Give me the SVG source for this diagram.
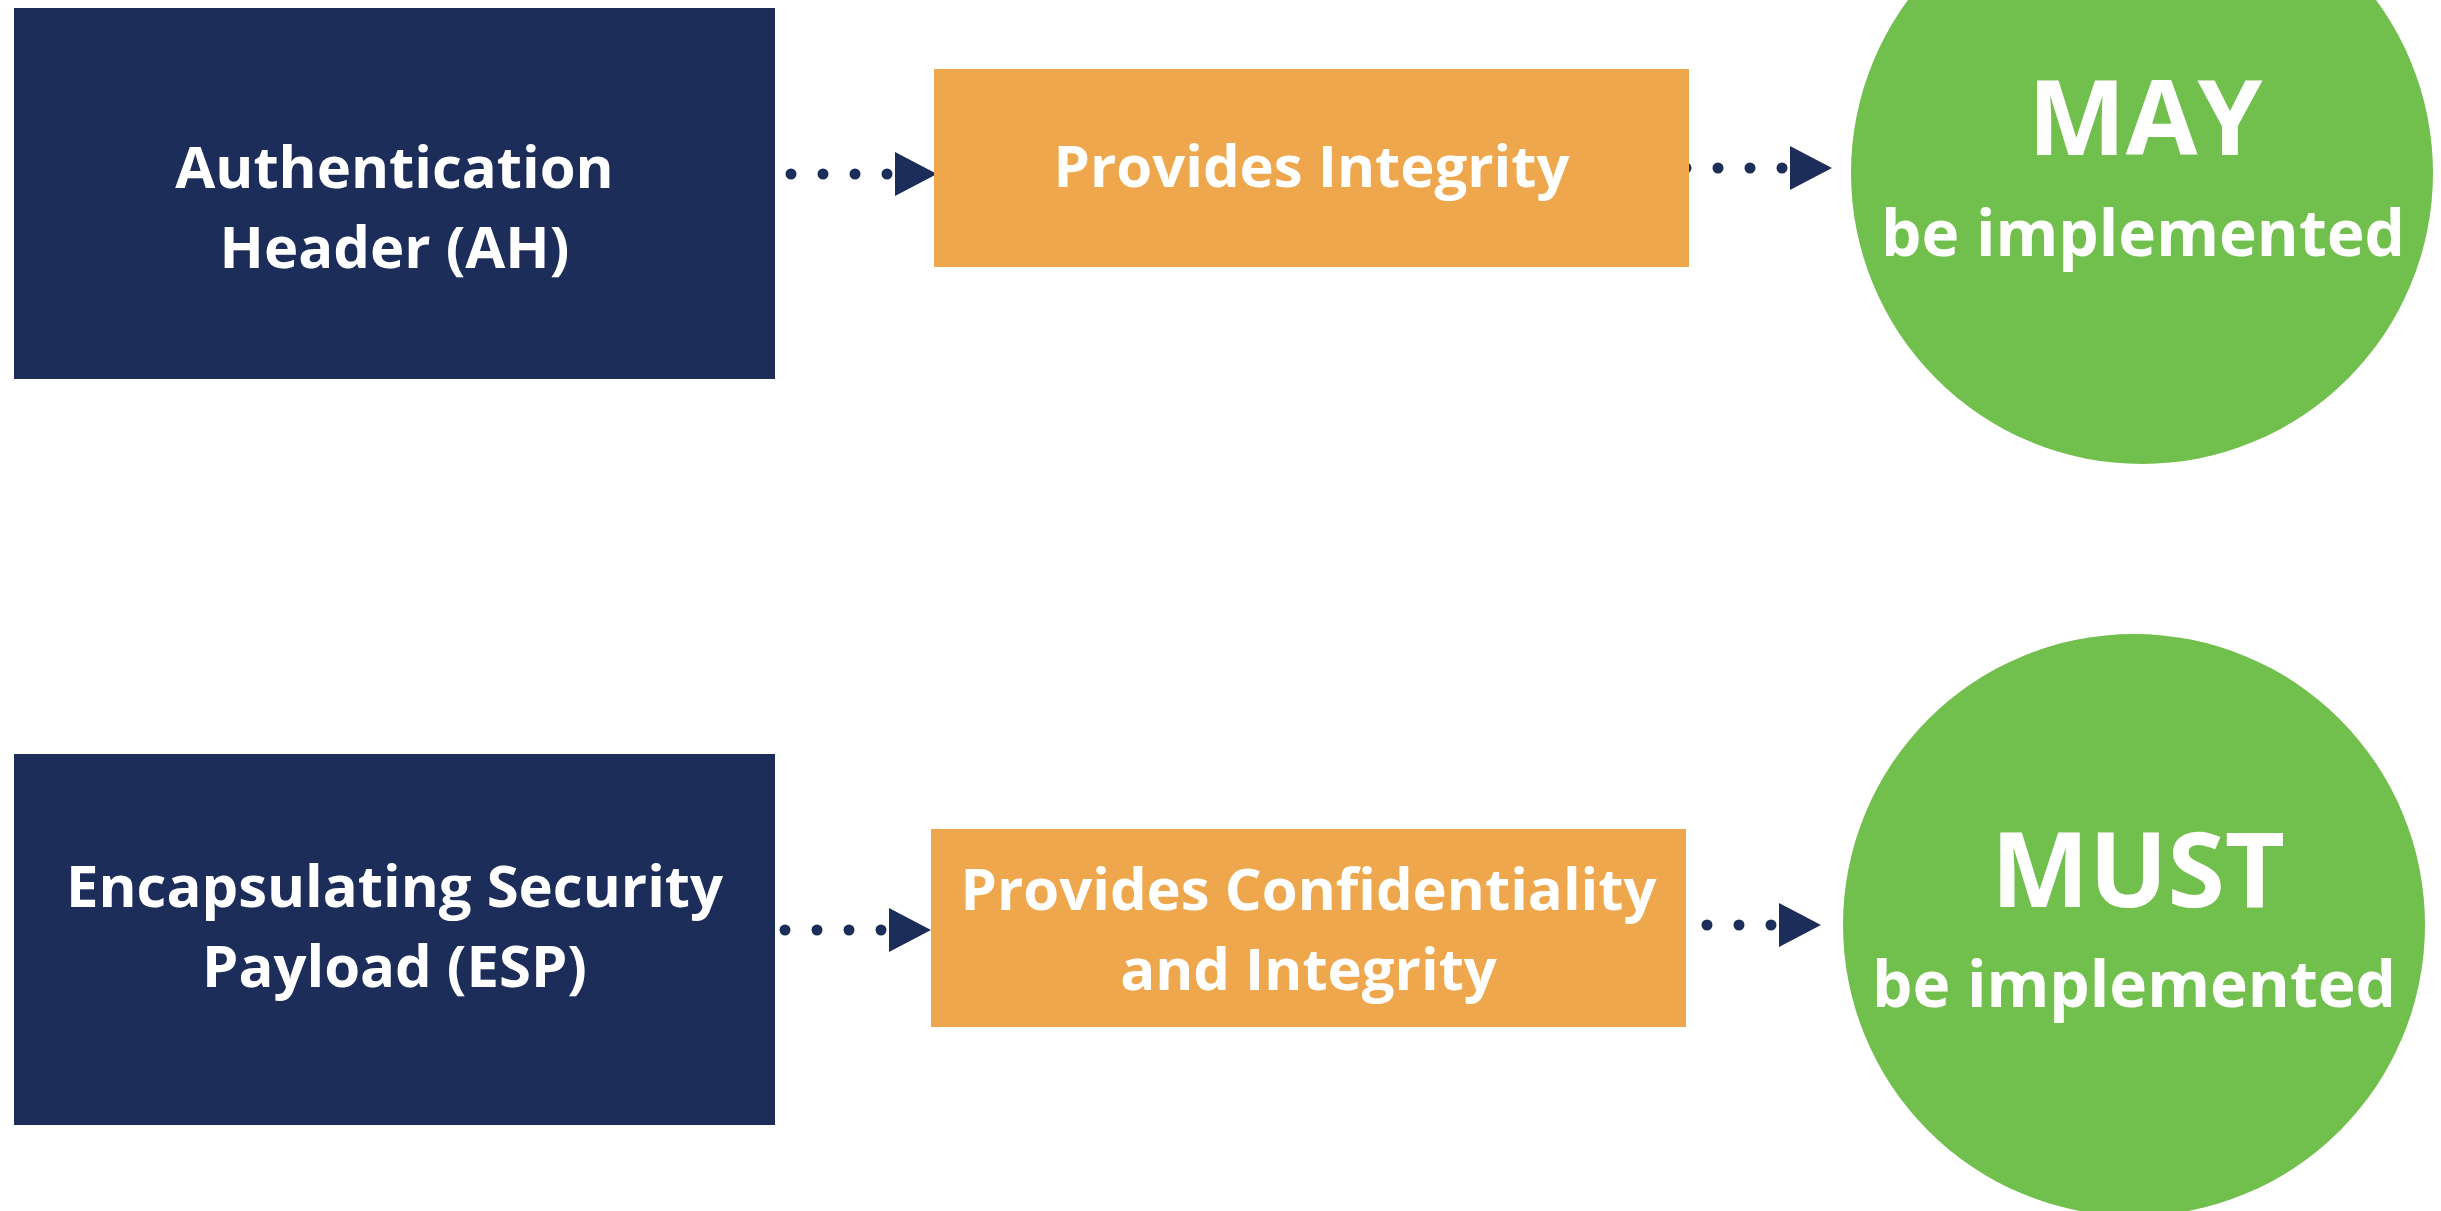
<svg xmlns="http://www.w3.org/2000/svg" width="2441" height="1211" viewBox="0 0 2441 1211">
<style>
.src{fill:#1C2D5A}
.mid{fill:#EEA74C}
.res{fill:#71BF4C}
.t{font-family:"Open Sans","Liberation Sans",sans-serif;font-weight:700;fill:#FFFFFF;text-anchor:middle}
.f60{font-size:58px}
.f64{font-size:64px}
.f104{font-size:104px}
.conn{stroke:#1C2D5A;stroke-width:11;stroke-linecap:round;stroke-dasharray:0 32;fill:none;marker-end:url(#ah)}
</style>
<defs>
<marker id="ah" markerUnits="userSpaceOnUse" viewBox="0 0 52 44" markerWidth="52" markerHeight="44" refX="0" refY="22" orient="auto" overflow="visible">
<path d="M7,0 L49,22 L7,44 Z" fill="#1C2D5A"/>
</marker>
</defs>
<rect width="2441" height="1211" fill="#FFFFFF"/>
<g id="connectors">
<line class="conn" x1="791" y1="174" x2="888" y2="174"/>
<line class="conn" x1="1686" y1="168" x2="1783" y2="168"/>
<line class="conn" x1="785" y1="930" x2="882" y2="930"/>
<line class="conn" x1="1675" y1="925" x2="1772" y2="925"/>
</g>
<g id="ah-node">
<rect class="src" x="14" y="8" width="761" height="371"/>
<text class="t f60" x="394.5" y="188">Authentication</text>
<text class="t f60" x="394.5" y="268">Header (AH)</text>
</g>
<g id="esp-node">
<rect class="src" x="14" y="754" width="761" height="371"/>
<text class="t f60" x="394.5" y="907">Encapsulating Security</text>
<text class="t f60" x="394.5" y="987">Payload (ESP)</text>
</g>
<g id="integrity-node">
<rect class="mid" x="934" y="69" width="755" height="198"/>
<text class="t f60" x="1311.5" y="187">Provides Integrity</text>
</g>
<g id="conf-node">
<rect class="mid" x="931" y="829" width="755" height="198"/>
<text class="t f60" x="1308.5" y="910">Provides Confidentiality</text>
<text class="t f60" x="1308.5" y="990">and Integrity</text>
</g>
<g id="may-node">
<circle class="res" cx="2142" cy="173" r="291"/>
<text class="t f104" x="2145" y="155">MAY</text>
<text class="t f64" x="2143" y="256">be implemented</text>
</g>
<g id="must-node">
<circle class="res" cx="2134" cy="925" r="291"/>
<text class="t f104" x="2138" y="907">MUST</text>
<text class="t f64" x="2134" y="1007">be implemented</text>
</g>
</svg>
